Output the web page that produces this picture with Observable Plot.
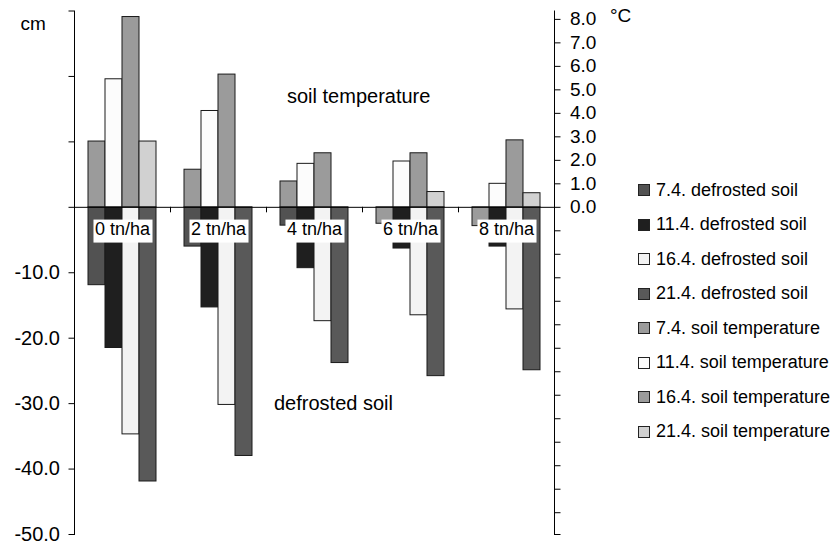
<!DOCTYPE html>
<html><head><meta charset="utf-8">
<script src="https://cdn.jsdelivr.net/npm/d3@7"></script>
<script src="https://cdn.jsdelivr.net/npm/@observablehq/plot@0.6"></script>
<style>
body{margin:0;background:#fff;font-family:"Liberation Sans",Arial,sans-serif;}
#wrap{position:relative;width:833px;height:545px;overflow:hidden;}
#legend{position:absolute;left:638px;top:172.75px;font-size:18px;color:#000;}
.row{height:34.5px;display:flex;align-items:center;white-space:nowrap;}
.sw{width:10px;height:10px;border:1px solid #222;margin-right:6px;flex:none;}
.ax{position:absolute;font-size:19px;color:#000;line-height:1;white-space:nowrap;}
</style></head><body><div id="wrap"></div>
<script>
// categories
const groups = ["0 tn/ha", "2 tn/ha", "4 tn/ha", "6 tn/ha", "8 tn/ha"];
const dates = ["7.4.", "11.4.", "16.4.", "21.4."];
// defrosted soil depth (cm), per date, one value per group
const defrosted_7_4  = [-11.9, -6.0, -2.8, null, null];
const defrosted_11_4 = [-21.5, -15.3, -9.3, -6.3, -6.0];
const defrosted_16_4 = [-34.7, -30.2, -17.4, -16.5, -15.6];
const defrosted_21_4 = [-41.9, -38.0, -23.8, -25.8, -24.9];
// soil temperature (°C), per date, one value per group
const temperature_7_4  = [2.8, 1.6, 1.1, -0.7, -0.8];
const temperature_11_4 = [5.45, 4.1, 1.85, 1.95, 1.0];
const temperature_16_4 = [8.1, 5.65, 2.3, 2.3, 2.85];
const temperature_21_4 = [2.8, null, null, 0.65, 0.6];
// tick labels
const leftTicks = [-50, -40, -30, -20, -10, 0, 10, 20, 30];
const rightTicks = [-13, -12, -11, -10, -9, -8, -7, -6, -5, -4, -3, -2, -1, 0, 1, 2, 3, 4, 5, 6, 7, 8];
// series colours
const defrostedColors = ["#525252", "#1f1f1f", "#f3f3f3", "#595959"];
const temperatureColors = ["#9b9b9b", "#fcfcfc", "#9b9b9b", "#d1d1d1"];

const defrostedSeries = [defrosted_7_4, defrosted_11_4, defrosted_16_4, defrosted_21_4];
const temperatureSeries = [temperature_7_4, temperature_11_4, temperature_16_4, temperature_21_4];
const defNames = dates.map(d => `${d} defrosted soil`);
const tempNames = dates.map(d => `${d} soil temperature`);

const defRows = [], tempRows = [];
dates.forEach((date, i) => groups.forEach((group, j) => {
  if (defrostedSeries[i][j] != null) defRows.push({group, date, series: defNames[i], value: defrostedSeries[i][j]});
  if (temperatureSeries[i][j] != null) tempRows.push({group, date, series: tempNames[i], value: temperatureSeries[i][j]});
}));

const factor = 3.59; // cm on the left axis per °C on the right axis
const font = "'Liberation Sans', Arial, sans-serif";

const plot = Plot.plot({
  width: 833, height: 545,
  marginTop: 10.5, marginBottom: 11, marginLeft: 72, marginRight: 278,
  style: {fontFamily: font, fontSize: "19px", color: "#000", background: "#fff", overflow: "visible"},
  fx: {domain: groups, padding: 0, axis: null},
  x: {domain: dates, paddingInner: 0, paddingOuter: 0.744, axis: null},
  y: {domain: [-50, 30], axis: null},
  color: {domain: [...defNames, ...tempNames], range: [...defrostedColors, ...temperatureColors]},
  marks: [
    Plot.barY(defRows, {fx: "group", x: "date", y: "value", fill: "series", stroke: "#1a1a1a", strokeWidth: 1}),
    Plot.barY(tempRows, {fx: "group", x: "date", y: d => d.value * factor, fill: "series", stroke: "#1a1a1a", strokeWidth: 1}),
    Plot.ruleY([0], {stroke: "#000", strokeWidth: 1}),
    Plot.frame({anchor: "left", facetAnchor: "left", stroke: "#000"}),
    Plot.frame({anchor: "right", facetAnchor: "right", stroke: "#000"}),
    Plot.axisY({anchor: "left", ticks: leftTicks, tickSize: 5.5, tickPadding: 9, fontSize: 20, label: null,
      tickFormat: d => d < 0 ? d.toFixed(1) : ""}),
    Plot.axisY({anchor: "right", ticks: [...rightTicks.map(t => t * factor), -50], tickSize: 5.5, tickPadding: 10, fontSize: 19, label: null,
      tickFormat: v => { const c = Math.round(v / factor); return (c >= 0 && Math.abs(v / factor - c) < 1e-6) ? c.toFixed(1) : ""; }}),
    Plot.text(["soil temperature"], {fx: () => "4 tn/ha", x: () => "7.4.", y: 16.9, textAnchor: "start", dx: -2, fontSize: 20, fill: "#000"}),
    Plot.text(["defrosted soil"], {fx: () => "4 tn/ha", x: () => "7.4.", y: -30, textAnchor: "start", dx: -15, fontSize: 20, fill: "#000"}),
    Plot.text(groups, {fx: d => d, y: 0, text: d => d, dy: 22, fontSize: 18, fill: "#000"})
  ]
});

const wrap = document.getElementById("wrap");
wrap.appendChild(plot);

// white boxes behind the category labels
d3.select(plot).selectAll("text").filter(function () { return groups.includes(this.textContent); }).each(function () {
  const b = this.getBBox();
  const node = this;
  d3.select(this.parentNode).insert("rect", () => node)
    .attr("x", b.x - 1.5).attr("y", b.y + 0.5).attr("width", b.width + 3).attr("height", b.height + 3)
    .attr("fill", "#fff").attr("stroke", "none")
    .attr("transform", this.getAttribute("transform"));
});

// category boundary ticks on the zero line
const fxs = plot.scale("fx"), ys = plot.scale("y");
const y0 = ys.apply(0);
const tg = d3.select(plot).append("g").attr("stroke", "#000").attr("stroke-width", 1);
groups.slice(1).forEach(g => {
  const x = Math.round(fxs.apply(g)) + 0.5;
  tg.append("line").attr("x1", x).attr("x2", x).attr("y1", y0).attr("y2", y0 + 5.5);
});

// axis unit labels
const cm = document.createElement("div");
cm.className = "ax"; cm.style.left = "20.5px"; cm.style.top = "14px"; cm.textContent = "cm";
wrap.appendChild(cm);
const deg = document.createElement("div");
deg.className = "ax"; deg.style.left = "610px"; deg.style.top = "6px"; deg.textContent = "°C";
wrap.appendChild(deg);

// legend
const legend = document.createElement("div");
legend.id = "legend";
[...defNames, ...tempNames].forEach((name, i) => {
  const row = document.createElement("div");
  row.className = "row";
  const sw = document.createElement("span");
  sw.className = "sw";
  sw.style.background = [...defrostedColors, ...temperatureColors][i];
  const t = document.createElement("span");
  t.textContent = name;
  row.appendChild(sw); row.appendChild(t);
  legend.appendChild(row);
});
wrap.appendChild(legend);
</script>
</body></html>
